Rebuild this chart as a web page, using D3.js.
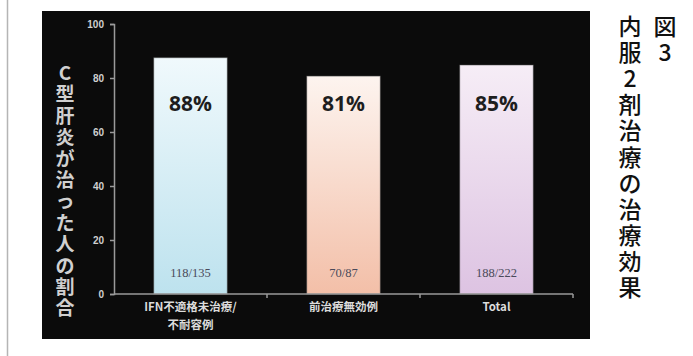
<!DOCTYPE html>
<html>
<head>
<meta charset="utf-8">
<script src="https://cdn.jsdelivr.net/npm/d3@7"></script>
<style>
  body { margin: 0; background: #fff; }
  svg { display: block; }
</style>
</head>
<body>
<svg id="chart"></svg>
<script>
// chart data
const categories = ['IFN不適格未治療/不耐容例', '前治療無効例', 'Total']
const xLabelLines = [['IFN不適格未治療/', '不耐容例'], ['前治療無効例'], ['Total']]
const rates = [87.5, 80.7, 84.8]
const rateLabels = ['88%', '81%', '85%']
const countLabels = ['118/135', '70/87', '188/222']
const yTicks = [0, 20, 40, 60, 80, 100]
const yTitle = 'C型肝炎が治った人の割合'
const figNo = '図3'
const figTitle = '内服2剤治療の治療効果'

const barColors = [
  ['#f0f9fc', '#bde2ee'],
  ['#fdf4ef', '#f3bfa8'],
  ['#f6edf6', '#ddc3e2']
]

const width = 693
const height = 356

let svg = d3.select('#chart')
  .attr('width', width)
  .attr('height', height)

// thin rule on the left edge of the page
svg.append('line')
  .attr('x1', 7.5).attr('x2', 7.5)
  .attr('y1', 0).attr('y2', height)
  .attr('stroke', '#b5b5b5')
  .attr('stroke-width', 1.5)

// black slide panel
svg.append('rect')
  .attr('x', 42).attr('y', 11)
  .attr('width', 548).attr('height', 328)
  .attr('fill', '#0b0b0b')

const x = d3.scaleBand()
  .domain(categories)
  .range([114, 573])
  .paddingInner(0.52)
  .paddingOuter(0.26)

const y = d3.scaleLinear()
  .domain([0, 100])
  .range([294, 24])

const defs = svg.append('defs')
barColors.forEach((c, i) => {
  let g = defs.append('linearGradient')
    .attr('id', 'grad' + i)
    .attr('x1', 0).attr('x2', 0).attr('y1', 0).attr('y2', 1)
  g.append('stop').attr('offset', '0%').attr('stop-color', c[0])
  g.append('stop').attr('offset', '100%').attr('stop-color', c[1])
})

// bars
let bars = svg.append('g').attr('class', 'bars')
bars.selectAll('rect')
  .data(categories)
  .enter()
  .append('rect')
  .attr('x', d => x(d))
  .attr('y', (d, i) => y(rates[i]))
  .attr('width', x.bandwidth())
  .attr('height', (d, i) => y(0) - y(rates[i]))
  .attr('fill', (d, i) => 'url(#grad' + i + ')')
  .attr('stroke', 'rgba(90,90,90,0.45)')
  .attr('stroke-width', 1)

// percent labels
svg.append('g').selectAll('text')
  .data(categories)
  .enter()
  .append('text')
  .attr('x', d => x(d) + x.bandwidth() / 2)
  .attr('y', 111)
  .attr('text-anchor', 'middle')
  .attr('font-family', '"Open Sans", sans-serif')
  .attr('font-weight', 'bold')
  .attr('font-size', 21)
  .attr('fill', '#1e1e1e')
  .text((d, i) => rateLabels[i])

// n/N labels
svg.append('g').selectAll('text')
  .data(categories)
  .enter()
  .append('text')
  .attr('x', d => x(d) + x.bandwidth() / 2)
  .attr('y', 277)
  .attr('text-anchor', 'middle')
  .attr('font-family', '"Liberation Serif", serif')
  .attr('font-size', 12.5)
  .attr('fill', '#4a4a5a')
  .text((d, i) => countLabels[i])

// y axis
let yAxis = svg.append('g')
  .attr('transform', 'translate(114,0)')
  .call(d3.axisLeft(y).tickValues(yTicks).tickSize(4).tickPadding(6))
yAxis.select('.domain').attr('stroke', '#9a9a9a').attr('stroke-width', 1.5)
yAxis.selectAll('.tick line').attr('stroke', '#9a9a9a').attr('stroke-width', 1.5)
yAxis.selectAll('.tick text')
  .attr('fill', '#d0d0d0')
  .attr('font-size', 10)
  .attr('font-weight', 'bold')
  .attr('font-family', '"Liberation Sans", sans-serif')

// x axis
let xAxis = svg.append('g')
  .attr('transform', 'translate(0,' + y(0) + ')')
xAxis.append('line')
  .attr('x1', 114).attr('x2', 573)
  .attr('y1', 0).attr('y2', 0)
  .attr('stroke', '#9a9a9a')
  .attr('stroke-width', 1.5)
const step = x.step()
xAxis.selectAll('line.tick')
  .data([1, 2, 3])
  .enter()
  .append('line')
  .attr('class', 'tick')
  .attr('x1', d => 114 + d * step).attr('x2', d => 114 + d * step)
  .attr('y1', 0).attr('y2', 4)
  .attr('stroke', '#9a9a9a')
  .attr('stroke-width', 1.5)

// category labels
categories.forEach((c, i) => {
  let t = xAxis.append('text')
    .attr('x', x(c) + x.bandwidth() / 2)
    .attr('y', 17)
    .attr('text-anchor', 'middle')
    .attr('font-family', '"Noto Sans CJK JP", sans-serif')
    .attr('font-weight', 'bold')
    .attr('font-size', 11.5)
    .attr('fill', '#dcdcdc')
  xLabelLines[i].forEach((line, j) => {
    t.append('tspan')
      .attr('x', x(c) + x.bandwidth() / 2)
      .attr('dy', j === 0 ? 0 : 18)
      .text(line)
  })
})

// vertical y title, one glyph per row
svg.append('g').selectAll('text')
  .data(Array.from(yTitle))
  .enter()
  .append('text')
  .attr('x', 65)
  .attr('y', (d, i) => 80 + i * 21.4)
  .attr('text-anchor', 'middle')
  .attr('font-family', '"Noto Sans CJK JP", sans-serif')
  .attr('font-weight', 'bold')
  .attr('font-size', 19)
  .attr('fill', '#d0d0d0')
  .text(d => d)

// figure caption, vertical, right side
function verticalText(str, cx) {
  svg.append('g').selectAll('text')
    .data(Array.from(str))
    .enter()
    .append('text')
    .attr('x', cx)
    .attr('y', (d, i) => 35 + i * 26.1)
    .attr('text-anchor', 'middle')
    .attr('font-family', '"Noto Sans CJK JP", sans-serif')
    .attr('font-weight', 500)
    .attr('font-size', 23)
    .attr('fill', '#111')
    .text(d => d)
}
verticalText(figNo, 665)
verticalText(figTitle, 630)
</script>
</body>
</html>
